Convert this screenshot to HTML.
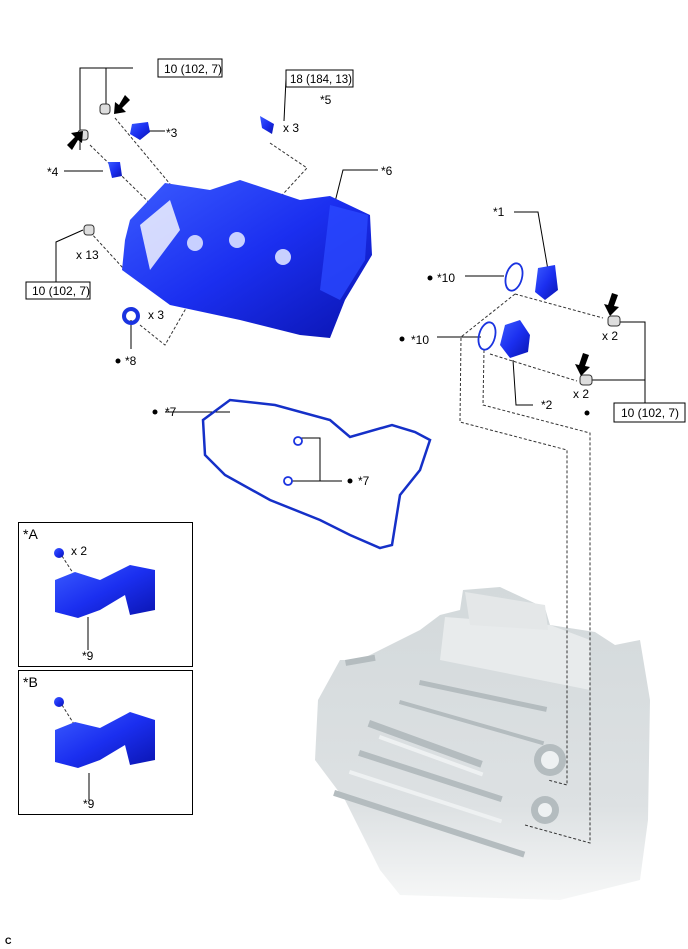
<!DOCTYPE html>
<html><head><meta charset="utf-8"><style>
html,body{margin:0;padding:0;background:#fff}
svg{display:block}
text{font-family:"Liberation Sans",sans-serif;font-size:12px;fill:#000}
</style></head><body>
<svg width="688" height="949" viewBox="0 0 688 949" xmlns="http://www.w3.org/2000/svg">
<defs>
<linearGradient id="eg" x1="0" y1="0" x2="0" y2="1">
<stop offset="0" stop-color="#d3d9db"/><stop offset="0.7" stop-color="#dde1e3"/><stop offset="1" stop-color="#f6f7f7"/>
</linearGradient>
<linearGradient id="bl" x1="0" y1="0" x2="1" y2="1">
<stop offset="0" stop-color="#3b5cff"/><stop offset="0.5" stop-color="#1b2ff0"/><stop offset="1" stop-color="#0a14b0"/>
</linearGradient>
</defs>

<!-- engine -->
<g>
<polygon points="463,590 500,587 545,608 550,625 595,632 615,645 640,640 650,700 648,820 640,880 560,900 400,895 380,870 345,800 315,760 318,700 340,660 360,660 420,630 440,615 460,610" fill="url(#eg)"/>
<polygon points="445,617 550,625 590,640 590,690 440,660" fill="#e8ebec"/>
<polygon points="465,592 545,605 548,630 470,625" fill="#e4e7e8"/>
<g fill="#b4bcbf">
<rect x="370" y="720" width="120" height="7" transform="rotate(20 370 720)"/>
<rect x="360" y="750" width="150" height="6" transform="rotate(18 360 750)"/>
<rect x="335" y="790" width="200" height="6" transform="rotate(18 335 790)"/>
<rect x="420" y="680" width="130" height="5" transform="rotate(12 420 680)"/>
<rect x="400" y="700" width="150" height="4" transform="rotate(16 400 700)"/>
<circle cx="550" cy="760" r="16"/><circle cx="545" cy="810" r="14"/>
<rect x="345" y="660" width="30" height="6" transform="rotate(-10 345 660)"/>
</g>
<g fill="#eef1f2">
<circle cx="550" cy="760" r="9"/><circle cx="545" cy="810" r="7"/>
<rect x="380" y="735" width="110" height="4" transform="rotate(20 380 735)"/>
<rect x="350" y="770" width="160" height="4" transform="rotate(18 350 770)"/>
</g>
</g>

<g stroke="#000" stroke-width="1" fill="none">
<polyline points="80,150 80,68 133,68"/>
<line x1="106" y1="68" x2="106" y2="104"/>
<line x1="148" y1="131" x2="165" y2="131"/>
<line x1="64" y1="171" x2="103" y2="171"/>
<polyline points="284,121 286,79"/>
<line x1="286" y1="79" x2="298" y2="79"/>
<polyline points="333,210 343,170 378,170"/>
<polyline points="56,283 56,242 83,230"/>
<line x1="131" y1="320" x2="131" y2="349"/>
<polyline points="514,212 538,212 548,270"/>
<line x1="465" y1="276" x2="504" y2="276"/>
<line x1="437" y1="337" x2="481" y2="337"/>
<polyline points="513,360 516,405 533,405"/>
<polyline points="620,322 645,322 645,403"/>
<line x1="590" y1="380" x2="645" y2="380"/>
<line x1="165" y1="412" x2="230" y2="412"/>
<polyline points="300,438 320,438 320,481 292,481"/>
<line x1="320" y1="481" x2="342" y2="481"/>
<line x1="88" y1="617" x2="88" y2="650"/>
<line x1="89" y1="773" x2="89" y2="800"/>
</g>

<g stroke="#333" stroke-width="1" fill="none" stroke-dasharray="3,2">
<line x1="115" y1="118" x2="210" y2="232"/>
<line x1="90" y1="145" x2="203" y2="255"/>
<polyline points="270,143 307,168 250,230"/>
<polyline points="225,240 165,345 140,325"/>
<line x1="90" y1="232" x2="123" y2="268"/>
<line x1="245" y1="225" x2="283" y2="258"/>
<line x1="515" y1="294" x2="603" y2="318"/>
<polyline points="515,294 461,337 460,422 567,450 567,785 548,780"/>
<polyline points="484,350 483,405 590,433 590,843 525,825"/>
<line x1="490" y1="354" x2="577" y2="381"/>
<line x1="62" y1="556" x2="84" y2="590"/>
<line x1="62" y1="705" x2="84" y2="740"/>
</g>

<g>
<polygon points="130,220 165,183 210,190 240,180 300,200 330,196 370,215 372,255 345,300 330,338 300,335 240,320 170,305 122,270 125,240" fill="url(#bl)"/>
<polygon points="140,225 170,200 180,230 150,270" fill="#fff" opacity="0.8"/>
<circle cx="195" cy="243" r="8" fill="#c8d0ff"/><circle cx="237" cy="240" r="8" fill="#c8d0ff"/><circle cx="283" cy="257" r="8" fill="#c8d0ff"/>
<polygon points="330,205 368,215 365,260 340,300 320,290" fill="#2a48ff" opacity="0.8"/>
</g>
<g fill="url(#bl)">
<polygon points="132,124 148,122 150,132 140,140 130,134"/>
<polygon points="108,162 120,162 122,176 112,178"/>
<polygon points="260,116 274,124 272,134 262,128"/>
<circle cx="131" cy="316" r="7" fill="none" stroke="#1a33e0" stroke-width="4"/>
<polygon points="538,268 555,265 558,290 545,300 535,292"/>
<polygon points="505,325 520,320 530,335 528,352 510,358 500,345"/>
<polygon points="55,580 75,572 100,580 130,565 155,570 155,610 130,615 125,595 100,610 78,618 55,612"/>
<polygon points="55,730 75,722 100,728 130,712 155,720 155,760 130,765 125,745 100,760 78,768 55,762"/>
<circle cx="59" cy="553" r="5"/><circle cx="59" cy="702" r="5"/>
</g>
<g fill="none" stroke="#1a33e0" stroke-width="1.8">
<ellipse cx="514" cy="277" rx="8" ry="14" transform="rotate(15 514 277)"/>
<ellipse cx="487" cy="336" rx="8" ry="14" transform="rotate(15 487 336)"/>
<path d="M203,420 L230,400 275,405 330,420 350,437 392,425 415,432 430,440 420,470 400,495 392,545 380,548 350,535 320,520 270,500 225,475 205,455 Z" stroke-width="2.5" stroke="#1530c8"/>
<circle cx="298" cy="441" r="4"/><circle cx="288" cy="481" r="4"/>
</g>
<g fill="#ddd" stroke="#333" stroke-width="1">
<rect x="100" y="104" width="10" height="10" rx="3"/><rect x="78" y="130" width="10" height="10" rx="3"/>
<rect x="84" y="225" width="10" height="10" rx="3"/>
<rect x="608" y="316" width="12" height="10" rx="3"/><rect x="580" y="375" width="12" height="10" rx="3"/>
</g>
<g fill="#000">
<polygon points="125,95 130,100 122,108 126,112 114,114 115,102 119,105"/>
<polygon points="72,150 67,145 75,137 71,133 83,131 82,143 78,140"/>
<polygon points="612,293 618,295 614,306 619,307 610,316 604,304 608,305"/>
<polygon points="583,353 589,355 585,366 590,367 581,376 575,364 579,365"/>
<circle cx="118" cy="361" r="2.5"/><circle cx="430" cy="278" r="2.5"/><circle cx="402" cy="339" r="2.5"/>
<circle cx="587" cy="413" r="2.5"/><circle cx="155" cy="412" r="2.5"/><circle cx="350" cy="481" r="2.5"/>
</g>

<g fill="#fff" stroke="#000">
<rect x="158" y="59" width="64" height="18"/>
<rect x="286" y="70" width="67" height="17"/>
<rect x="26" y="282" width="64" height="17"/>
<rect x="614" y="403" width="71" height="19"/>
<rect x="18.5" y="522.5" width="174" height="144" fill="none"/>
<rect x="18.5" y="670.5" width="174" height="144" fill="none"/>
</g>
<text x="164" y="73">10 (102, 7)</text>
<text x="290" y="83" style="font-size:11.5px">18 (184, 13)</text>
<text x="32" y="295">10 (102, 7)</text>
<text x="621" y="417">10 (102, 7)</text>
<text x="320" y="104">*5</text>
<text x="283" y="132">x 3</text>
<text x="166" y="137">*3</text>
<text x="47" y="176">*4</text>
<text x="381" y="175">*6</text>
<text x="76" y="259">x 13</text>
<text x="148" y="319">x 3</text>
<text x="125" y="365">*8</text>
<text x="493" y="216">*1</text>
<text x="437" y="282">*10</text>
<text x="411" y="344">*10</text>
<text x="602" y="340">x 2</text>
<text x="573" y="398">x 2</text>
<text x="541" y="409">*2</text>
<text x="165" y="416">*7</text>
<text x="358" y="485">*7</text>
<text x="23" y="539" style="font-size:14px">*A</text>
<text x="71" y="555">x 2</text>
<text x="82" y="660">*9</text>
<text x="23" y="687" style="font-size:14px">*B</text>
<text x="83" y="808">*9</text>
<text x="5" y="944" style="font-size:9px;font-weight:bold">C</text>
</svg>
</body></html>
